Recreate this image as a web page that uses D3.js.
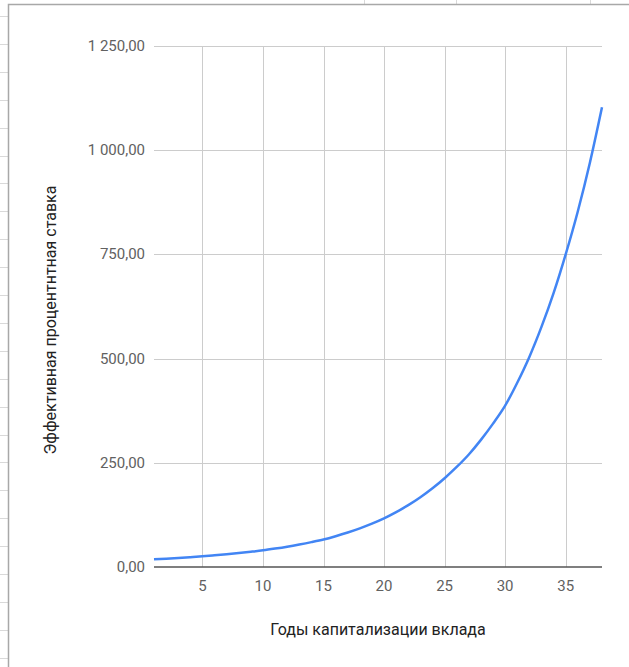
<!DOCTYPE html>
<html>
<head>
<meta charset="utf-8">
<script src="https://d3js.org/d3.v7.min.js"></script>
<style>
  body { margin: 0; background: #fff; }
  svg { display: block; }
</style>
</head>
<body>
<div id="svgdiv"></div>
<script>
var width = 629, height = 667;

// годы и значения
var years = d3.range(1, 39);
var rates = [18.4, 20.0, 21.7, 23.6, 25.6, 28.0, 30.6, 33.5, 36.6, 40.0,
             44.2, 48.8, 54.0, 59.7, 66.0, 73.9, 82.8, 92.8, 104.0, 116.6,
             131.5, 148.3, 167.3, 188.8, 213, 240, 270, 305, 344, 387,
             442, 504, 576, 657, 750, 853, 970, 1103];
var yTicks = [0, 250, 500, 750, 1000, 1250];
var xTicks = [5, 10, 15, 20, 25, 30, 35];
var xTitle = "Годы капитализации вклада";
var yTitle = "Эффективная процентнтная ставка";

var svg = d3.select("#svgdiv")
  .append("svg")
  .attr("width", width)
  .attr("height", height);

// фон таблицы за графиком
var sheet = svg.append("g");
d3.range(16, height, 27.9).forEach(function(y){
  sheet.append("line")
    .attr("x1", 0).attr("x2", 8)
    .attr("y1", Math.round(y) + 0.5).attr("y2", Math.round(y) + 0.5)
    .style("stroke", "#d9d9d9");
});
[364.5, 456.5, 590.5].forEach(function(x){
  sheet.append("line")
    .attr("x1", x).attr("x2", x)
    .attr("y1", 0).attr("y2", 4)
    .style("stroke", "#d9d9d9");
});
sheet.append("path")
  .attr("d", "M8.5," + height + "V4.5H" + width)
  .style("fill", "none")
  .style("stroke", "#a8a8a8")
  .style("stroke-width", 1.5);

var x = d3.scaleLinear()
  .domain([1, 38])
  .range([154, 602]);

var y = d3.scaleLinear()
  .domain([0, 1250])
  .range([567, 46]);

var fmt = function(v){
  return d3.format(",.2f")(v).replace(/,/g, " ").replace(".", ",");
};

// сетка
svg.append("g").selectAll("line")
  .data(yTicks.filter(function(d){ return d > 0; }))
  .enter().append("line")
  .attr("x1", x(1)).attr("x2", x(38))
  .attr("y1", function(d){ return Math.round(y(d)) + 0.5; })
  .attr("y2", function(d){ return Math.round(y(d)) + 0.5; })
  .style("stroke", "#cccccc");

svg.append("g").selectAll("line")
  .data(xTicks)
  .enter().append("line")
  .attr("x1", function(d){ return Math.round(x(d)) + 0.5; })
  .attr("x2", function(d){ return Math.round(x(d)) + 0.5; })
  .attr("y1", y(1250)).attr("y2", y(0))
  .style("stroke", "#cccccc");

// подписи осей
svg.append("g").selectAll("text")
  .data(yTicks)
  .enter().append("text")
  .attr("x", 145)
  .attr("y", function(d){ return y(d) + 5; })
  .attr("text-anchor", "end")
  .style("font-family", "Roboto, Arial, sans-serif")
  .style("font-size", "15px")
  .style("fill", "#616161")
  .text(fmt);

svg.append("g").selectAll("text")
  .data(xTicks)
  .enter().append("text")
  .attr("x", function(d){ return x(d); })
  .attr("y", 591)
  .attr("text-anchor", "middle")
  .style("font-family", "Roboto, Arial, sans-serif")
  .style("font-size", "15px")
  .style("fill", "#616161")
  .text(function(d){ return d; });

// линия
var line = d3.line()
  .x(function(d, i){ return x(years[i]); })
  .y(function(d){ return y(d); })
  .curve(d3.curveMonotoneX);

svg.append("path")
  .datum(rates)
  .attr("d", line)
  .style("fill", "none")
  .style("stroke", "#4285f4")
  .style("stroke-width", 2.5);

// нулевая линия
svg.append("line")
  .attr("x1", x(1)).attr("x2", x(38))
  .attr("y1", y(0)).attr("y2", y(0))
  .style("stroke", "#555555")
  .style("stroke-width", 1.5);

svg.append("text")
  .attr("x", 378)
  .attr("y", 635)
  .attr("text-anchor", "middle")
  .style("font-family", "Roboto, Arial, sans-serif")
  .style("font-size", "16px")
  .style("fill", "#222222")
  .text(xTitle);

svg.append("text")
  .attr("transform", "translate(56,320) rotate(-90)")
  .attr("text-anchor", "middle")
  .style("font-family", "Roboto, Arial, sans-serif")
  .style("font-size", "16px")
  .style("fill", "#222222")
  .text(yTitle);
</script>
</body>
</html>
